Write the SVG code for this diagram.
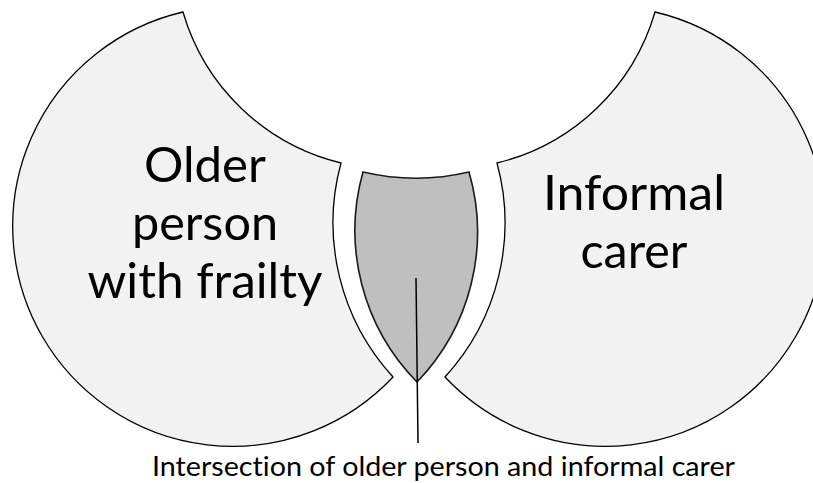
<svg xmlns="http://www.w3.org/2000/svg" width="813" height="483" viewBox="0 0 813 483">
  <style>
    .blob { fill: #f2f2f2; stroke: #000; stroke-width: 1.3; stroke-linejoin: miter; }
    .lens { fill: #bfbfbf; stroke: #1a1a1a; stroke-width: 1.6; }
    .big { font-family: Lato, "Open Sans", sans-serif; font-size: 48px; fill: #000; text-anchor: middle; font-variant-ligatures: none; }
    .small { font-family: Lato, "Open Sans", sans-serif; font-size: 27px; fill: #000; text-anchor: middle; font-variant-ligatures: none; }
    .conn { stroke: #000; stroke-width: 1.5; fill: none; }
  </style>
  <rect width="813" height="483" fill="#fff"/>
  <g id="older-person">
    <path class="blob" d="M183,12 A218,218 0 0 0 341,163 A228,228 0 0 0 393,377 A220,220 0 1 1 183,12 Z"/>
    <text class="big"><tspan x="205" y="182" textLength="122" lengthAdjust="spacingAndGlyphs">Older</tspan><tspan x="205" y="240" textLength="146" lengthAdjust="spacingAndGlyphs">person</tspan><tspan x="205" y="298" textLength="235" lengthAdjust="spacingAndGlyphs">with frailty</tspan></text>
  </g>
  <g id="informal-carer">
    <path class="blob" d="M655,12 A218,218 0 0 1 497,163 A228,228 0 0 1 445,377 A220,220 0 1 0 655,12 Z"/>
    <text class="big"><tspan x="634" y="210" textLength="182" lengthAdjust="spacingAndGlyphs">Informal</tspan><tspan x="634" y="268" textLength="107" lengthAdjust="spacingAndGlyphs">carer</tspan></text>
  </g>
  <g id="intersection">
    <path class="lens" d="M363,172 A233,233 0 0 0 469,172 A216,216 0 0 1 417,382 A216,216 0 0 1 363,172 Z"/>
  </g>
  <g id="connectors">
    <line class="conn" x1="416" y1="278" x2="418" y2="443"/>
  </g>
  <g id="label">
    <text class="small" x="443.5" y="476" textLength="583" lengthAdjust="spacingAndGlyphs">Intersection of older person and informal carer</text>
  </g>
</svg>
